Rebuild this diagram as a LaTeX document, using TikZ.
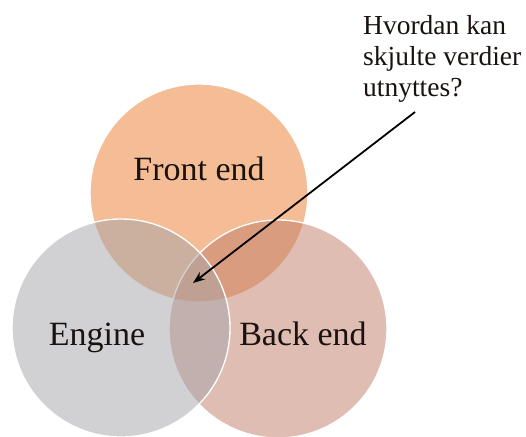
\documentclass[tikz,border=0pt]{standalone}
\usepackage{fontspec}
\setmainfont{Liberation Serif}
\usetikzlibrary{arrows.meta}
\definecolor{frontbase}{RGB}{235,125,45}
\definecolor{backbase}{RGB}{193,125,105}
\definecolor{enginebase}{RGB}{165,165,169}
\definecolor{labeltext}{RGB}{25,18,15}
\tikzset{
  venn/.style={fill=#1, fill opacity=0.5, draw=white, draw opacity=1, line width=1.3pt},
  biglabel/.style={anchor=base, inner sep=0pt, text=labeltext, font=\fontsize{34}{40}\selectfont},
  note/.style={anchor=north west, inner sep=0pt, align=left, text=labeltext, font=\fontsize{27.5}{31}\selectfont},
  pointer/.style={line width=1.8pt, -{Stealth[length=12pt,width=9pt]}}
}
\begin{document}
\begin{tikzpicture}[x=1pt,y=-1pt]
\useasboundingbox (0,0) rectangle (526,436);
\fill[white] (0,0) rectangle (526,436);
\path[venn=frontbase] (199,193) circle[radius=109pt];
\path[venn=backbase] (278,329) circle[radius=109pt];
\path[venn=enginebase] (121,328) circle[radius=109pt];
\node[biglabel] (frontlbl) at (199,180) {Front end};
\node[biglabel] (enginelbl) at (97,345) {Engine};
\node[biglabel] (backlbl) at (303,345) {Back end};
\node[note] (question) at (363,15) {Hvordan kan\\skjulte verdier\\utnyttes?};
\coordinate (arrowstart) at (415,112);
\coordinate (arrowtip) at (193,283);
\draw[pointer] (arrowstart) -- (arrowtip);
\end{tikzpicture}
\end{document}
